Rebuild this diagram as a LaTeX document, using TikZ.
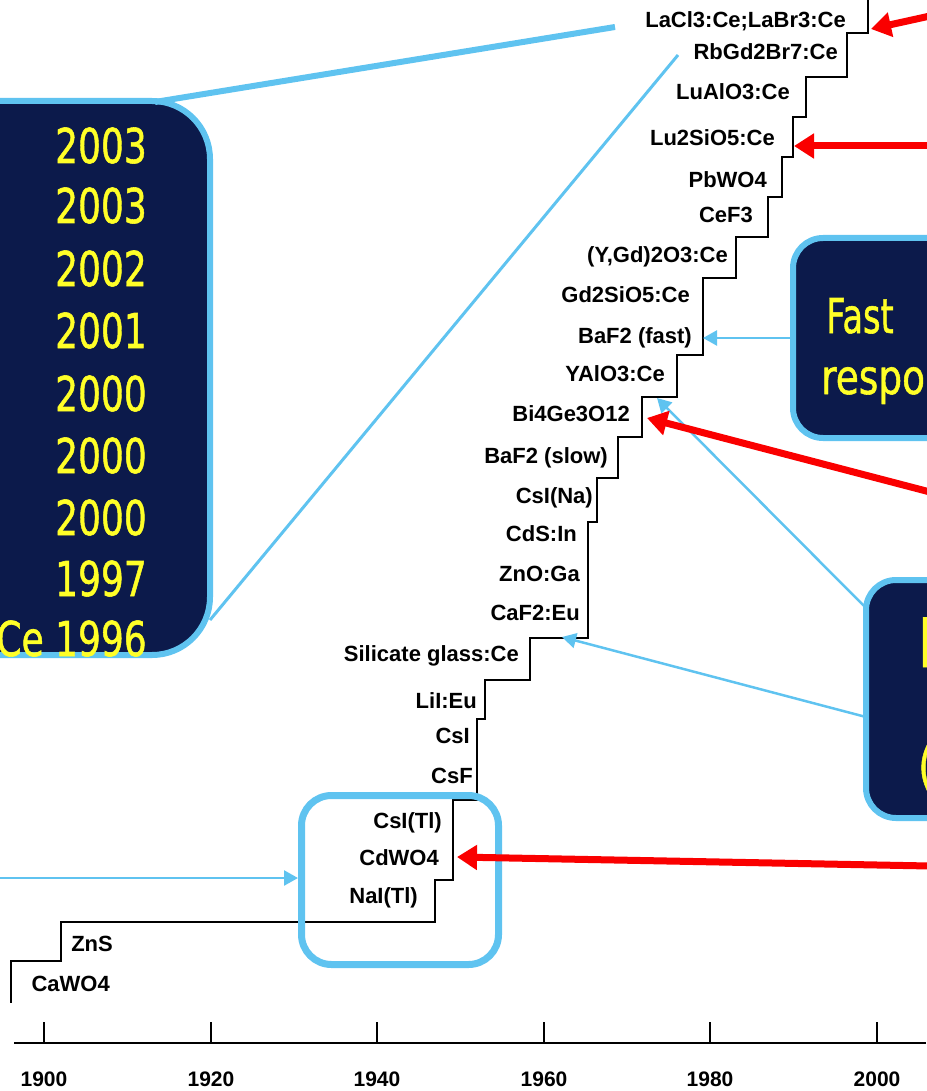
\documentclass[tikz,border=0pt]{standalone}
\usepackage{fontspec}
\setmainfont{Liberation Sans}
\newfontfamily\yfont[FakeBold=1.2]{DejaVu Sans}
\usetikzlibrary{arrows.meta}
\definecolor{skyb}{RGB}{95,195,240}
\definecolor{navyb}{RGB}{12,26,75}
\definecolor{yel}{RGB}{255,255,40}
\definecolor{redA}{RGB}{250,0,0}
\begin{document}
\begin{tikzpicture}[x=1pt,y=-1pt,
  lab/.style={font=\bfseries\fontsize{22}{22}\selectfont, inner sep=0, anchor=base east},
  yr/.style={font=\bfseries\fontsize{21}{21}\selectfont, inner sep=0, anchor=base},
  bigbox/.style={draw=skyb, fill=navyb, line width=6pt, inner sep=0},
  ytext/.style={font=\yfont\fontsize{48}{48}\selectfont, text=yel, inner sep=0},
  redarrow/.style={draw=redA, line width=7pt, -{Triangle[length=20pt,width=24pt]}},
  bluearrow/.style={draw=skyb, line width=2.5pt, -{Triangle[length=14pt,width=15pt]}},
  stair/.style={draw=black, line width=2.2pt},
  bluelink/.style={draw=skyb},
]
\useasboundingbox (0,0) rectangle (926,1091);

% ---- staircase
\draw[stair] (868,0) -- (868,33) -- (847,33) -- (847,77) -- (806,77) -- (806,117)
  -- (793,117) -- (793,157) -- (782,157) -- (782,197) -- (768,197) -- (768,237)
  -- (736,237) -- (736,278) -- (703,278) -- (703,355) -- (677,355) -- (677,397)
  -- (642,397) -- (642,437) -- (618,437) -- (618,478) -- (597,478) -- (597,522)
  -- (588,522) -- (588,638) -- (530,638) -- (530,680) -- (485,680) -- (485,719)
  -- (477,719) -- (477,800) -- (453,800) -- (453,880) -- (435,880) -- (435,922)
  -- (61,922) -- (61,961) -- (11,961) -- (11,1003);

% ---- labels
\node[lab] (l1) at (846,28) {LaCl3:Ce;LaBr3:Ce};
\node[lab] (l2) at (838,60) {RbGd2Br7:Ce};
\node[lab] (l3) at (790,100) {LuAlO3:Ce};
\node[lab] (l4) at (775,146) {Lu2SiO5:Ce};
\node[lab] (l5) at (767,188) {PbWO4};
\node[lab] (l6) at (753,223) {CeF3};
\node[lab] (l7) at (728,262) {(Y,Gd)2O3:Ce};
\node[lab] (l8) at (690,302) {Gd2SiO5:Ce};
\node[lab] (l9) at (692,343) {BaF2 (fast)};
\node[lab] (l10) at (665,381) {YAlO3:Ce};
\node[lab] (l11) at (630,421) {Bi4Ge3O12};
\node[lab] (l12) at (608,463) {BaF2 (slow)};
\node[lab] (l13) at (593,503) {CsI(Na)};
\node[lab] (l14) at (577,541) {CdS:In};
\node[lab] (l15) at (580,581) {ZnO:Ga};
\node[lab] (l16) at (580,620) {CaF2:Eu};
\node[lab] (l17) at (519,661) {Silicate glass:Ce};
\node[lab] (l18) at (477,708) {LiI:Eu};
\node[lab] (l19) at (470,743) {CsI};
\node[lab] (l20) at (473,783) {CsF};
\node[lab] (l21) at (442,828) {CsI(Tl)};
\node[lab] (l22) at (439,865) {CdWO4};
\node[lab] (l23) at (418,903) {NaI(Tl)};
\node[lab] (l24) at (113,951) {ZnS};
\node[lab] (l25) at (110,991) {CaWO4};

% ---- axis
\draw[line width=2pt] (14,1043) -- (926,1043);
\foreach \x/\yy in {44/1900,211/1920,377/1940,544/1960,710/1980,877/2000}{
  \draw[line width=2pt] (\x,1022) -- (\x,1043);
  \node[yr] (y\yy) at (\x,1086) {\yy};
}

% ---- highlight square
\node[draw=skyb, line width=7pt, rounded corners=30pt, minimum width=197pt, minimum height=169pt, inner sep=0] (sq) at (400,880) {};

% ---- left box
\node[bigbox, rounded corners=58pt, minimum width=290pt, minimum height=554pt] (lb) at (65,378) {};
\foreach \yy/\t [count=\i] in {145/2003,205/2003,268/2002,330/2001,393/2000,455/2000,517/2000,578/1997,638/Ce 1996}{
  \node[ytext, anchor=base east] (yt\i) at (147,\yy+18) {\scalebox{0.75}[1]{\t}};
}
\coordinate (lbtop) at (155,102);
\coordinate (lbside) at (210,620);
\coordinate (topend) at (615,27);
\coordinate (thinend) at (678,55);
\draw[bluelink, line width=6pt] (lbtop) -- (topend);
\draw[bluelink, line width=3pt] (lbside) -- (thinend);

% ---- right boxes
\node[bigbox, rounded corners=30pt, minimum width=207pt, minimum height=200pt] (fb) at (896.5,338) {};
\node[ytext, anchor=base west] (fast) at (826,333) {\scalebox{0.7}[1]{Fast}};
\node[ytext, anchor=base west] (resp) at (821,394) {\scalebox{0.78}[1]{response}};
\node[bigbox, rounded corners=30pt, minimum width=134pt, minimum height=238pt] (hb) at (933,699) {};
\node[ytext, font=\yfont\fontsize{68}{68}\selectfont, anchor=base west] (h1) at (918,667) {\scalebox{0.75}[1]{H}};
\node[ytext, font=\yfont\fontsize{52}{52}\selectfont, anchor=base west] (h3) at (918,784) {\scalebox{0.75}[1]{(}};

% ---- blue arrows
\coordinate (tfast) at (703,338);
\coordinate (tbgo) at (657,398);
\coordinate (tcaf) at (562,637);
\coordinate (hbA) at (866,608);
\coordinate (hbB) at (866,717);
\coordinate (leftend) at (0,878);
\coordinate (tsq) at (298,878);
\draw[bluearrow] (fb.west) -- (tfast);
\draw[bluearrow] (hbA) -- (tbgo);
\draw[bluearrow] (hbB) -- (tcaf);
\draw[bluearrow] (leftend) -- (tsq);

% ---- red arrows
\coordinate (r1s) at (930,16);
\coordinate (r1t) at (871,29);
\coordinate (r2s) at (930,146);
\coordinate (r2t) at (794,146);
\coordinate (r3s) at (930,492);
\coordinate (r3t) at (647,418);
\coordinate (r4s) at (930,866);
\coordinate (r4t) at (457,857);
\draw[redarrow] (r1s) -- (r1t);
\draw[redarrow] (r2s) -- (r2t);
\draw[redarrow] (r3s) -- (r3t);
\draw[redarrow] (r4s) -- (r4t);
\end{tikzpicture}
\end{document}
